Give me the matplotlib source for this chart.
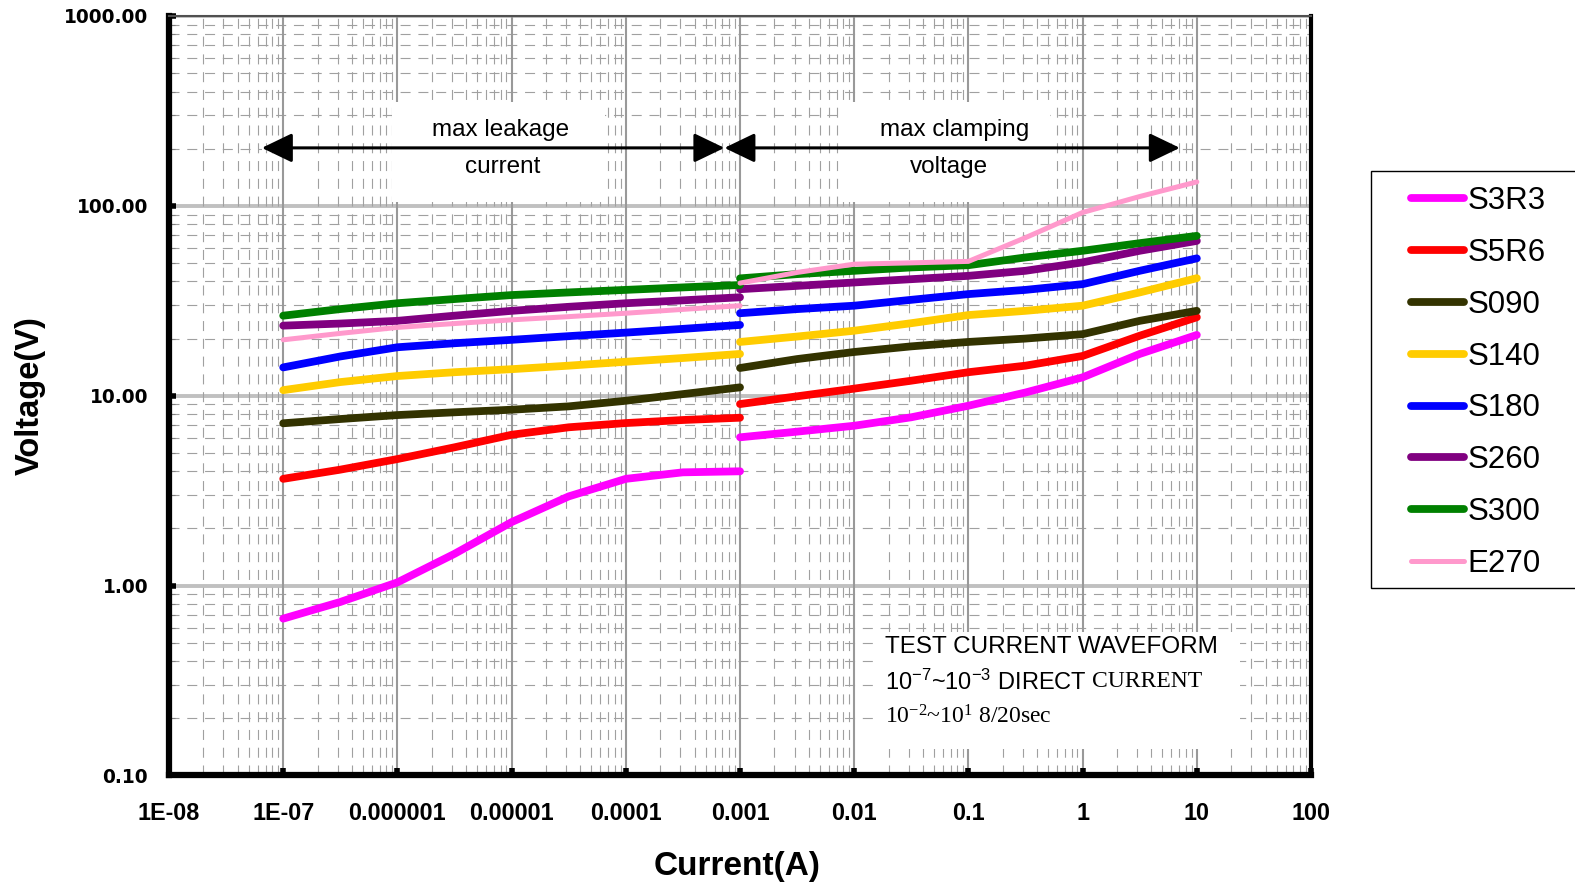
import numpy as np
import matplotlib
matplotlib.use("Agg")
import matplotlib.pyplot as plt
from matplotlib.patches import Rectangle
from matplotlib.ticker import FixedLocator, FixedFormatter, LogLocator, NullFormatter

# current points (A) for the two test ranges
left_i = [1e-7, 3.16e-7, 1e-6, 3.16e-6, 1e-5, 3.16e-5, 1e-4, 3.16e-4, 1e-3]
right_i = [1e-3, 3.16e-3, 0.01, 0.0316, 0.1, 0.316, 1, 3.16, 10]

names = ["S3R3", "S5R6", "S090", "S140", "S180", "S260", "S300", "E270"]
colors = ["#FF00FF", "#FF0000", "#333300", "#FFCC00", "#0000FF", "#800080", "#008000", "#FF99CC"]

# leakage region (DC)
s3r3_left = [0.67, 0.82, 1.04, 1.47, 2.16, 2.95, 3.65, 3.95, 4.0]
s5r6_left = [3.65, 4.08, 4.64, 5.35, 6.23, 6.82, 7.18, 7.45, 7.66]
s090_left = [7.16, 7.54, 7.91, 8.18, 8.44, 8.79, 9.41, 10.2, 11.07]
s140_left = [10.7, 11.8, 12.7, 13.3, 13.8, 14.4, 15.1, 15.8, 16.6]
s180_left = [14.1, 16.1, 18.0, 18.9, 19.7, 20.6, 21.5, 22.5, 23.6]
s260_left = [23.4, 24.0, 24.8, 26.4, 28.0, 29.4, 30.7, 31.8, 33.0]
s300_left = [26.4, 28.6, 30.7, 32.3, 33.9, 35.0, 36.1, 37.2, 38.3]
e270_left = [19.7, 21.3, 22.9, 24.0, 25.1, 26.1, 27.2, 28.5, 29.8]

# clamping region (8/20 us)
s3r3_right = [6.04, 6.47, 6.95, 7.7, 8.86, 10.4, 12.5, 16.6, 20.9]
s5r6_right = [9.04, 9.93, 10.9, 12.0, 13.3, 14.4, 16.2, 20.7, 25.9]
s090_right = [14.0, 15.6, 17.0, 18.2, 19.2, 20.0, 21.1, 24.8, 28.0]
s140_right = [19.2, 20.5, 22.0, 24.1, 26.6, 28.0, 29.8, 35.0, 41.6]
s180_right = [27.2, 28.6, 29.8, 32.0, 34.3, 36.1, 38.7, 45.5, 52.9]
s260_right = [36.4, 37.9, 39.5, 41.1, 42.8, 45.5, 50.4, 58.0, 65.4]
s300_right = [41.5, 43.7, 45.5, 47.4, 48.7, 53.5, 58.0, 63.6, 69.5]
e270_right = [39.2, 44.6, 49.3, 50.1, 51.0, 68.0, 92.3, 112.0, 133.7]

left_vals = [s3r3_left, s5r6_left, s090_left, s140_left, s180_left, s260_left, s300_left, e270_left]
right_vals = [s3r3_right, s5r6_right, s090_right, s140_right, s180_right, s260_right, s300_right, e270_right]

x_ticks = [1e-8, 1e-7, 1e-6, 1e-5, 1e-4, 1e-3, 1e-2, 1e-1, 1, 10, 100]
x_labels = ["1E-08", "1E-07", "0.000001", "0.00001", "0.0001", "0.001", "0.01", "0.1", "1", "10", "100"]
y_ticks = [0.1, 1, 10, 100, 1000]
y_labels = ["0.10", "1.00", "10.00", "100.00", "1000.00"]

plt.rcParams["font.family"] = ["Liberation Sans", "DejaVu Sans"]

fig = plt.figure(figsize=(15.75, 8.88), dpi=100)
ax = fig.add_axes([0.1073, 0.1267, 0.7251, 0.8553])
ax.set_xscale("log")
ax.set_yscale("log")
ax.set_xlim(1e-8, 100)
ax.set_ylim(0.1, 1000)

# curves
for name, col, lv, rv in zip(names, colors, left_vals, right_vals):
    lw = 3.6 if name == "E270" else 5.6
    ax.plot(left_i, lv, color=col, lw=lw, solid_capstyle="round", solid_joinstyle="round",
            label=name, zorder=5)
    ax.plot(right_i, rv, color=col, lw=lw, solid_capstyle="round", solid_joinstyle="round",
            zorder=5)

# grid
ax.xaxis.set_minor_locator(LogLocator(base=10, subs=np.arange(2, 10), numticks=20))
ax.yaxis.set_minor_locator(LogLocator(base=10, subs=np.arange(2, 10), numticks=20))
ax.xaxis.set_minor_formatter(NullFormatter())
ax.yaxis.set_minor_formatter(NullFormatter())
ax.grid(True, axis="x", which="major", color="#999999", lw=1.5)
ax.grid(True, axis="y", which="major", color="#c0c0c0", lw=2.8)
ax.grid(True, axis="both", which="minor", color="#a0a0a0", lw=0.8, linestyle=(0, (9, 7)))
ax.yaxis.set_zorder(0.5)
ax.xaxis.set_zorder(0.9)

# white areas behind the annotations
ax.add_patch(Rectangle((6.5e-8, 180), 7.1 - 6.5e-8, 44, facecolor="white", edgecolor="none", zorder=0.7))
ax.add_patch(Rectangle((9.0e-7, 104.5), 6.6e-5 - 9.0e-7, 351 - 104.5, facecolor="white", edgecolor="none", zorder=1))
ax.add_patch(Rectangle((7.5e-3, 104.5), 0.52 - 7.5e-3, 351 - 104.5, facecolor="white", edgecolor="none", zorder=1))
ax.add_patch(Rectangle((0.0168, 0.138), 23.9 - 0.0168, 0.57 - 0.138, facecolor="white", edgecolor="none", zorder=1))

# ticks
ax.xaxis.set_major_locator(FixedLocator(x_ticks))
ax.xaxis.set_major_formatter(FixedFormatter(x_labels))
ax.yaxis.set_major_locator(FixedLocator(y_ticks))
ax.yaxis.set_major_formatter(FixedFormatter(y_labels))
ax.tick_params(axis="both", which="major", direction="in", length=5, width=4, color="black")
ax.tick_params(axis="x", which="minor", length=0)
ax.tick_params(axis="y", which="minor", direction="in", length=4, width=0.8, color="#808080")
ax.tick_params(axis="x", which="major", pad=19)
ax.tick_params(axis="y", which="major", pad=15)
for lab in ax.get_xticklabels():
    lab.set_fontsize(16.8)
    lab.set_fontweight("bold")
for lab in ax.get_yticklabels():
    lab.set_family("DejaVu Sans")
    lab.set_fontsize(13.4)
    lab.set_fontweight("bold")

for side in ["left", "bottom"]:
    ax.spines[side].set_linewidth(4.5)
    ax.spines[side].set_color("black")
ax.spines["right"].set_linewidth(3)
ax.spines["top"].set_linewidth(1.5)
ax.spines["top"].set_color("#505050")
for sp in ax.spines.values():
    sp.set_zorder(6)

ax.set_xlabel("Current(A)", fontsize=24, fontweight="bold")
ax.set_ylabel("Voltage(V)", fontsize=23.5, fontweight="bold", va="center")
ax.xaxis.set_label_coords(0.497, -0.099)
ax.yaxis.set_label_coords(-0.1217, 0.5)

# range arrows
arrow_kw = dict(arrowstyle="<|-|>,head_length=1.87,head_width=0.9", color="black", lw=2.2,
                shrinkA=0, shrinkB=0, mutation_scale=10)
ax.annotate("", xy=(7.3e-4, 202), xytext=(6.5e-8, 202), arrowprops=arrow_kw, zorder=4)
ax.annotate("", xy=(7.1, 202), xytext=(7.3e-4, 202), arrowprops=arrow_kw, zorder=4)
ax.text(8.07e-6, 252, "max leakage", fontsize=17.5, ha="center", va="center", zorder=4)
ax.text(8.3e-6, 160, "current", fontsize=17.5, ha="center", va="center", zorder=4)
ax.text(0.0764, 252, "max clamping", fontsize=17.5, ha="center", va="center", zorder=4)
ax.text(0.0677, 160, "voltage", fontsize=17.5, ha="center", va="center", zorder=4)

# test waveform note
ax.text(0.0187, 0.4757, "TEST CURRENT WAVEFORM", fontsize=17.5, ha="left", va="center", zorder=4)
t2 = ax.text(0.0187, 0.311, r"10$\mathregular{^{-7}}$~10$\mathregular{^{-3}}$ DIRECT", fontsize=17,
             ha="left", va="center", zorder=4)
ax.text(0.0187, 0.2036, r"10$\mathregular{^{-2}}$~10$\mathregular{^{1}}$ 8/20sec", fontsize=17,
        family="Liberation Serif", ha="left", va="center", zorder=4)
fig.canvas.draw()
bb = t2.get_window_extent()
x_end = ax.transData.inverted().transform((bb.x1 + 5, bb.y0))[0]
ax.text(x_end, 0.311, "CURRENT", fontsize=17, family="Liberation Serif", ha="left", va="center", zorder=4)

# legend
fig.add_artist(Rectangle((1371 / 1575, 1 - 588 / 888), 220 / 1575, 417 / 888, transform=fig.transFigure,
                         facecolor="white", edgecolor="black", lw=1, zorder=0))
ax.legend(loc="upper left", bbox_to_anchor=(1411 / 1575, 1 - 186 / 888), bbox_transform=fig.transFigure,
          frameon=False, fontsize=22.5, handlelength=1.7, handletextpad=0.1, labelspacing=0.7,
          borderpad=0, borderaxespad=0)

fig.savefig("out.png", dpi=100)
